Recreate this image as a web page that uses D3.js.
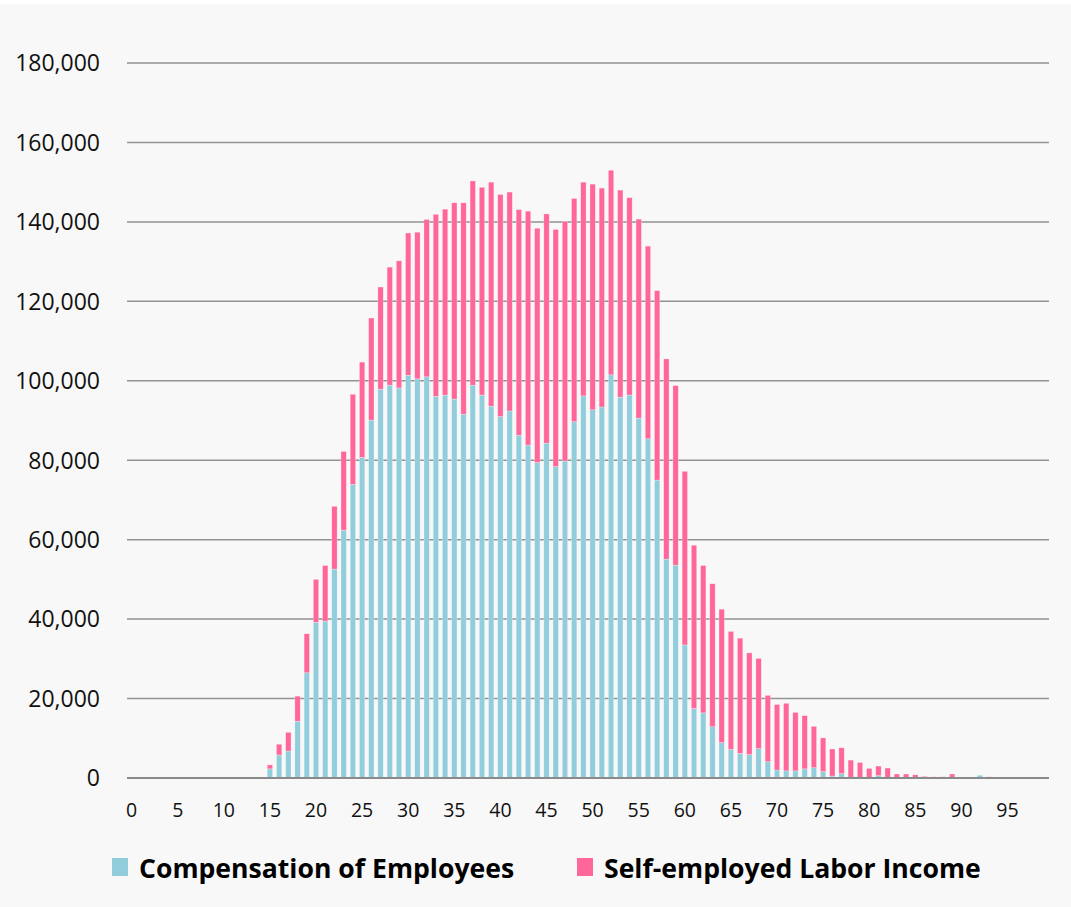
<!DOCTYPE html>
<html>
<head>
<meta charset="utf-8">
<script src="https://cdn.jsdelivr.net/npm/d3@7"></script>
<style>
  body { margin: 0; background: #fff; }
  svg { display: block; }
</style>
</head>
<body>
<svg></svg>
<script>
var width = 1071;
var height = 907;

// ages 0..99
var ages = d3.range(0, 100);

var employees = [
	0, 0, 0, 0, 0, 0, 0, 0, 0, 0,
	0, 0, 0, 0, 0, 2300, 5800, 6800, 14300, 26500,
	39200, 39500, 52600, 62400, 73900, 80700, 90100, 97900, 98900, 98200,
	101400, 100500, 101000, 96100, 96400, 95400, 91600, 98900, 96400, 93600,
	91000, 92400, 86300, 83800, 79400, 84300, 78400, 79800, 89700, 96200,
	92700, 93400, 101500, 95900, 96400, 90600, 85400, 75000, 55100, 53600,
	33500, 17500, 16400, 12900, 8900, 7200, 6200, 5900, 7400, 4100,
	2000, 1800, 1800, 2300, 2600, 1600, 500, 1100, 200, 100,
	100, 600, 100, 100, 100, 0, 0, 0, 0, 0,
	0, 0, 700, 0, 0, 0, 0, 0, 0, 0
];

var selfEmployed = [
	0, 0, 0, 0, 0, 0, 0, 0, 0, 0,
	0, 0, 0, 0, 0, 1000, 2700, 4700, 6300, 9800,
	10800, 14000, 15800, 19800, 22700, 24000, 25700, 25700, 29700, 32000,
	35800, 36900, 39600, 45800, 46800, 49400, 53200, 51400, 52300, 56400,
	55900, 55100, 56800, 58900, 59000, 57700, 59700, 60300, 56200, 53800,
	56800, 55100, 51500, 52100, 49700, 50100, 48500, 47700, 50400, 45200,
	43700, 41100, 37100, 36000, 33600, 29700, 29000, 25600, 22700, 16700,
	16500, 17000, 14700, 13400, 10400, 8500, 6800, 6500, 4300, 3800,
	2300, 2400, 2400, 900, 900, 800, 400, 300, 300, 1000,
	0, 0, 0, 300, 0, 0, 0, 0, 0, 0
];

var seriesNames = ["Compensation of Employees", "Self-employed Labor Income"];
var colors = ["#92cddc", "#ff6699"];
var yTicks = [0, 20000, 40000, 60000, 80000, 100000, 120000, 140000, 160000, 180000];
var xTickLabels = [0, 5, 10, 15, 20, 25, 30, 35, 40, 45, 50, 55, 60, 65, 70, 75, 80, 85, 90, 95];

var plotLeft = 127, plotRight = 1049, plotTop = 63, plotBottom = 778;

var svg = d3.select('svg')
	.attr('width', width)
	.attr('height', height);

svg.append('rect')
	.attr('x', 0)
	.attr('y', 4)
	.attr('width', width)
	.attr('height', height - 4)
	.attr('fill', '#f8f8f8');

var x = d3.scaleBand()
	.domain(ages)
	.range([plotLeft, plotRight])
	.paddingInner(0.42)
	.paddingOuter(0.21);

var y = d3.scaleLinear()
	.domain([0, 180000])
	.range([plotBottom, plotTop]);

// gridlines
svg.append('g')
	.selectAll('line')
	.data(yTicks)
	.enter()
	.append('line')
		.attr('x1', plotLeft)
		.attr('x2', plotRight)
		.attr('y1', d => y(d))
		.attr('y2', d => y(d))
		.attr('stroke', '#929292')
		.attr('stroke-width', 1.5);

// y labels
svg.append('g')
	.selectAll('text')
	.data(yTicks)
	.enter()
	.append('text')
		.attr('x', 100)
		.attr('y', d => y(d))
		.attr('dy', '0.36em')
		.attr('text-anchor', 'end')
		.attr('font-family', '"Open Sans", sans-serif')
		.attr('font-size', 23)
		.attr('fill', '#111')
		.text(d => d3.format(',')(d));

// x labels
svg.append('g')
	.selectAll('text')
	.data(xTickLabels)
	.enter()
	.append('text')
		.attr('x', d => x(d) + x.bandwidth() / 2)
		.attr('y', 817)
		.attr('text-anchor', 'middle')
		.attr('font-family', '"Open Sans", sans-serif')
		.attr('font-size', 19.5)
		.attr('fill', '#111')
		.text(d => d);

var table = ages.map((a, i) => ({age: a, emp: employees[i], self: selfEmployed[i]}));
var stacked = d3.stack().keys(['emp', 'self'])(table);

svg.append('g')
	.selectAll('g')
	.data(stacked)
	.enter()
	.append('g')
		.attr('fill', (d, i) => colors[i])
	.selectAll('rect')
	.data(d => d.filter(s => s[1] - s[0] > 0))
	.enter()
	.append('rect')
		.attr('x', d => x(d.data.age))
		.attr('width', x.bandwidth())
		.attr('y', d => y(d[1]))
		.attr('height', d => y(d[0]) - y(d[1]))
		.attr('stroke', 'rgba(255,255,255,0.45)')
		.attr('stroke-width', 0.6);

// baseline on top
svg.append('line')
	.attr('x1', plotLeft)
	.attr('x2', plotRight)
	.attr('y1', y(0))
	.attr('y2', y(0))
	.attr('stroke', '#8a8a8a')
	.attr('stroke-width', 2);

// legend
var legendX = [112, 577];
var legend = svg.append('g')
	.selectAll('g')
	.data(seriesNames)
	.enter()
	.append('g')
		.attr('transform', (d, i) => 'translate(' + legendX[i] + ',0)');

legend.append('rect')
	.attr('x', 0)
	.attr('y', 858)
	.attr('width', 16)
	.attr('height', 18)
	.attr('fill', (d, i) => colors[i]);

legend.append('text')
	.attr('x', 27)
	.attr('y', 878)
	.attr('font-family', '"Open Sans", sans-serif')
	.attr('font-weight', 'bold')
	.attr('font-size', 26.6)
	.attr('fill', '#000')
	.text(d => d);
</script>
</body>
</html>
